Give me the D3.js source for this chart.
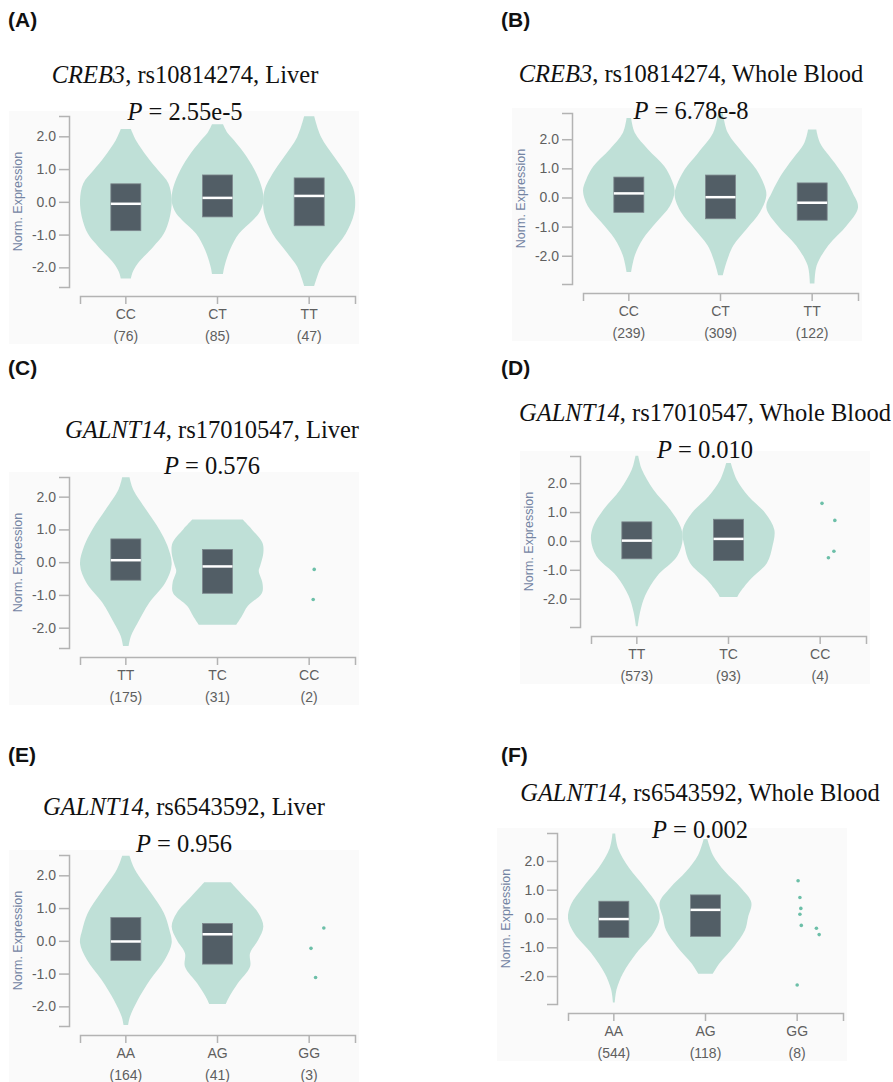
<!DOCTYPE html>
<html>
<head>
<meta charset="utf-8">
<script src="https://cdnjs.cloudflare.com/ajax/libs/d3/7.8.5/d3.min.js"></script>
<style>
body { margin: 0; background: #fff; }
svg text { font-family: "Liberation Sans", Arial, sans-serif; }
.letter { font-size: 21px; font-weight: bold; fill: #111; }
.title { font-family: "Liberation Serif", "Times New Roman", serif; font-size: 24.5px; fill: #111; }
.axis path, .axis line { stroke: #b3b3b3; stroke-width: 1.5; }
.axis text { fill: #5f5f5f; font-size: 14px; }
.ylabel { font-size: 12.5px; fill: #7384a3; }
.count { fill: #5f5f5f; font-size: 14px; }
</style>
</head>
<body>
<svg id="fig" width="893" height="1082"></svg>
<script>
// panel labels and titles
var panelLetters = ["(A)", "(B)", "(C)", "(D)", "(E)", "(F)"];
var geneNames = ["CREB3", "CREB3", "GALNT14", "GALNT14", "GALNT14", "GALNT14"];
var snpIds = ["rs10814274", "rs10814274", "rs17010547", "rs17010547", "rs6543592", "rs6543592"];
var tissues = ["Liver", "Whole Blood", "Liver", "Whole Blood", "Liver", "Whole Blood"];
var pValues = ["2.55e-5", "6.78e-8", "0.576", "0.010", "0.956", "0.002"];

// genotype groups and sample sizes
var genotypes = [["CC", "CT", "TT"], ["CC", "CT", "TT"], ["TT", "TC", "CC"],
                 ["TT", "TC", "CC"], ["AA", "AG", "GG"], ["AA", "AG", "GG"]];
var sampleSizes = [[76, 85, 47], [239, 309, 122], [175, 31, 2],
                   [573, 93, 4], [164, 41, 3], [544, 118, 8]];

// y extent (norm. expression) of each panel
var yExtents = [[-2.6, 2.62], [-2.97, 2.9], [-2.62, 2.6], [-2.98, 2.94], [-2.6, 2.62], [-2.97, 2.97]];
var yTicks = [-2, -1, 0, 1, 2];

// box stats [q1, median, q3], null where the group is shown as points
var boxStats = [
  [[-0.88, -0.06, 0.55], [-0.46, 0.12, 0.82], [-0.73, 0.18, 0.73]],
  [[-0.51, 0.14, 0.70], [-0.73, 0.01, 0.77], [-0.78, -0.18, 0.50]],
  [[-0.55, 0.06, 0.71], [-0.95, -0.13, 0.39], null],
  [[-0.62, 0.01, 0.66], [-0.68, 0.07, 0.75], null],
  [[-0.60, -0.02, 0.71], [-0.71, 0.20, 0.53], null],
  [[-0.66, -0.02, 0.60], [-0.62, 0.30, 0.82], null]
];

// violin outlines: [value, relative density width]
var violinShapes = [
  [
    [[-2.34,.11],[-2.14,.15],[-1.88,.26],[-1.37,.6],[-0.97,.83],[-0.46,.96],[0.05,1],[0.56,.93],[0.97,.7],[1.37,.47],[1.88,.22],[2.22,.11]],
    [[-2.2,.12],[-1.98,.15],[-1.47,.27],[-0.97,.47],[-0.56,.77],[-0.36,.9],[0,1],[0.36,.98],[0.86,.85],[1.37,.64],[1.88,.36],[2.1,.22],[2.37,.12]],
    [[-2.57,.11],[-2.39,.15],[-1.98,.26],[-1.58,.47],[-0.97,.8],[-0.36,.98],[0.15,1],[0.46,.95],[0.86,.8],[1.37,.55],[1.98,.26],[2.61,.11]]
  ],
  [
    [[-2.56,.05],[-1.99,.13],[-1.42,.31],[-0.85,.6],[-0.28,.9],[0.23,1],[0.62,.93],[1.08,.77],[1.65,.42],[2.22,.13],[2.73,.05]],
    [[-2.67,.05],[-2.22,.13],[-1.65,.28],[-1.08,.57],[-0.51,.86],[0.06,1],[0.4,.96],[0.97,.78],[1.53,.49],[2.22,.16],[2.9,.05]],
    [[-2.95,.05],[-2.33,.1],[-1.65,.35],[-0.97,.75],[-0.34,1],[0.17,.88],[0.63,.73],[1.19,.49],[1.88,.17],[2.33,.09]]
  ],
  [
    [[-2.56,.06],[-2.26,.11],[-1.85,.26],[-1.24,.51],[-0.63,.86],[-0.07,1],[0.49,.91],[1.0,.73],[1.61,.44],[2.22,.16],[2.59,.08]],
    [[-1.91,.41],[-1.65,.53],[-1.34,.66],[-0.94,.97],[-0.63,.98],[-0.27,.9],[-0.12,.93],[0.28,1],[0.59,.98],[1.0,.75],[1.3,.55]],
    null
  ],
  [
    [[-2.95,.02],[-2.47,.07],[-1.9,.18],[-1.22,.44],[-0.53,.88],[0.05,1],[0.51,.95],[1.08,.73],[1.78,.36],[2.47,.11],[2.95,.03]],
    [[-1.94,.19],[-1.8,.24],[-1.34,.47],[-0.76,.84],[-0.18,.96],[0.39,1],[0.97,.8],[1.54,.44],[2.12,.18],[2.7,.05]],
    null
  ],
  [
    [[-2.57,.05],[-2.32,.09],[-1.81,.26],[-1.19,.53],[-0.58,.85],[-0.07,1],[0.34,.95],[0.85,.83],[1.46,.55],[2.17,.2],[2.6,.08]],
    [[-1.93,.18],[-1.7,.26],[-1.3,.44],[-0.79,.71],[-0.38,.71],[0.03,.89],[0.44,1],[0.85,.89],[1.36,.57],[1.79,.29]],
    null
  ],
  [
    [[-2.92,.02],[-2.46,.06],[-1.9,.2],[-1.21,.49],[-0.52,.86],[0,1],[0.5,.93],[1.07,.68],[1.76,.33],[2.44,.09],[2.95,.03]],
    [[-1.92,.16],[-1.55,.31],[-0.98,.62],[-0.41,.86],[0.05,.93],[0.56,1],[1.07,.77],[1.64,.42],[2.21,.16],[2.76,.04]],
    null
  ]
];

// individual samples of the rare genotype: [value, jitter]
var rarePoints = [
  [],
  [],
  [[-0.22, 0.055], [-1.14, 0.044]],
  [[1.30, 0.02], [0.71, 0.16], [-0.36, 0.15], [-0.58, 0.09]],
  [[0.39, 0.16], [-0.23, 0.02], [-1.12, 0.07]],
  [[1.31, 0.01], [0.73, 0.03], [0.35, 0.04], [0.15, 0.03], [-0.24, 0.045], [-0.34, 0.21], [-0.56, 0.24], [-2.31, 0.0]]
];

// where each panel sits on the page
var panelLayout = [
  {x: 9,   y: 111, titleX: 185, titleY: 83,  pY: 120, labelX: 8,   labelY: 27},
  {x: 512, y: 108, titleX: 691, titleY: 82,  pY: 119, labelX: 501, labelY: 27},
  {x: 9,   y: 472, titleX: 212, titleY: 438, pY: 474, labelX: 8,   labelY: 375},
  {x: 520, y: 451, titleX: 705, titleY: 421, pY: 458, labelX: 501, labelY: 375},
  {x: 9,   y: 850, titleX: 184, titleY: 815, pY: 852, labelX: 8,   labelY: 762},
  {x: 497, y: 828, titleX: 700, titleY: 801, pY: 838, labelX: 501, labelY: 762}
];

var bgWidth = 350, bgHeight = 233;
var yAxisX = 60, yTop = 5, yBottom = 176;
var xAxisY = 185, xLeft = 71, xRight = 346;
var boxWidth = 30;

var svg = d3.select("#fig");

for (var i = 0; i < 6; i++) {
  drawPanel(i);
}

function drawPanel(i) {
  var lay = panelLayout[i];
  var g = svg.append("g")
      .attr("transform", "translate(" + lay.x + "," + lay.y + ")");

  // light background
  g.append("rect")
      .attr("width", bgWidth)
      .attr("height", bgHeight)
      .attr("fill", "#fafafa");

  // set the ranges
  var y = d3.scaleLinear()
      .domain(yExtents[i])
      .range([yBottom, yTop]);

  var x = d3.scaleBand()
      .domain(genotypes[i])
      .range([xLeft, xRight])
      .padding(0);

  // y axis
  g.append("g")
      .attr("class", "axis")
      .attr("transform", "translate(" + yAxisX + ",0)")
      .call(d3.axisLeft(y).tickValues(yTicks).tickSize(10).tickSizeOuter(10).tickPadding(3)
        .tickFormat(function(d) { return d.toFixed(1); }));

  g.append("text")
      .attr("class", "ylabel")
      .attr("transform", "translate(13," + ((yTop + yBottom) / 2) + ") rotate(-90)")
      .style("text-anchor", "middle")
      .text("Norm. Expression");

  // x axis with genotype names
  var xg = g.append("g")
      .attr("class", "axis")
      .attr("transform", "translate(0," + xAxisY + ")")
      .call(d3.axisBottom(x).tickSize(8).tickSizeOuter(8).tickPadding(5));

  xg.selectAll(".tick").append("text")
      .attr("class", "count")
      .attr("y", 45)
      .attr("fill", "#5f5f5f")
      .style("text-anchor", "middle")
      .text(function(d) { return "(" + sampleSizes[i][genotypes[i].indexOf(d)] + ")"; });

  var half = x.bandwidth() / 2;

  var area = d3.area()
      .curve(d3.curveCatmullRom)
      .y(function(d) { return y(d[0]); });

  genotypes[i].forEach(function(gt, j) {
    var cx = x(gt) + half;

    if (violinShapes[i][j]) {
      area.x0(function(d) { return cx - d[1] * half; })
          .x1(function(d) { return cx + d[1] * half; });
      g.append("path")
          .datum(violinShapes[i][j])
          .attr("d", area)
          .attr("fill", "#bfe0d7");
    }

    var b = boxStats[i][j];
    if (b) {
      g.append("rect")
          .attr("x", cx - boxWidth / 2)
          .attr("y", y(b[2]))
          .attr("width", boxWidth)
          .attr("height", y(b[0]) - y(b[2]))
          .attr("fill", "#525e66")
          .attr("stroke", "#7d878d")
          .attr("stroke-width", 0.8);
      g.append("line")
          .attr("x1", cx - boxWidth / 2)
          .attr("x2", cx + boxWidth / 2)
          .attr("y1", y(b[1]))
          .attr("y2", y(b[1]))
          .attr("stroke", "#fff")
          .attr("stroke-width", 2.5);
    }

    if (j === 2) {
      g.selectAll(".dot")
          .data(rarePoints[i])
          .enter().append("circle")
          .attr("cx", function(d) { return cx + d[1] * x.bandwidth(); })
          .attr("cy", function(d) { return y(d[0]); })
          .attr("r", 1.8)
          .attr("fill", "#6cbfa8");
    }
  });

  // panel letter and titles on top
  svg.append("text")
      .attr("class", "letter")
      .attr("x", lay.labelX)
      .attr("y", lay.labelY)
      .text(panelLetters[i]);

  var t = svg.append("text")
      .attr("class", "title")
      .attr("x", lay.titleX)
      .attr("y", lay.titleY)
      .style("text-anchor", "middle");
  t.append("tspan").style("font-style", "italic").text(geneNames[i]);
  t.append("tspan").text(", " + snpIds[i] + ", " + tissues[i]);

  var p = svg.append("text")
      .attr("class", "title")
      .attr("x", lay.titleX)
      .attr("y", lay.pY)
      .style("text-anchor", "middle");
  p.append("tspan").style("font-style", "italic").text("P");
  p.append("tspan").text(" = " + pValues[i]);
}
</script>
</body>
</html>
